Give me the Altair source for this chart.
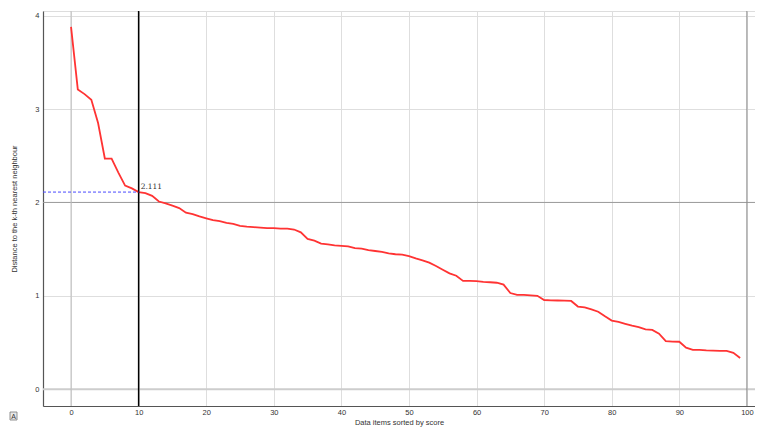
import altair as alt
import pandas as pd

# k-distance values, items sorted by score (0..99)
idx = list(range(100))
dist = [
    3.88, 3.21, 3.16, 3.10, 2.85, 2.47, 2.47, 2.32, 2.18, 2.15,
    2.111, 2.10, 2.07, 2.01, 1.99, 1.965, 1.94, 1.89, 1.875, 1.85,
    1.83, 1.81, 1.80, 1.78, 1.77, 1.75, 1.74, 1.735, 1.73, 1.725,
    1.725, 1.72, 1.72, 1.71, 1.68, 1.61, 1.59, 1.56, 1.55, 1.54,
    1.535, 1.53, 1.51, 1.505, 1.49, 1.48, 1.47, 1.455, 1.445, 1.44,
    1.425, 1.40, 1.38, 1.355, 1.32, 1.28, 1.24, 1.215, 1.16, 1.16,
    1.157, 1.15, 1.145, 1.14, 1.12, 1.03, 1.01, 1.01, 1.005, 1.00,
    0.955, 0.952, 0.95, 0.948, 0.945, 0.885, 0.875, 0.855, 0.83, 0.78,
    0.735, 0.72, 0.70, 0.68, 0.665, 0.64, 0.635, 0.595, 0.515, 0.51,
    0.508, 0.445, 0.42, 0.42, 0.415, 0.413, 0.41, 0.41, 0.39, 0.335,
]

x_ticks = [0, 10, 20, 30, 40, 50, 60, 70, 80, 90, 100]
y_ticks = [0, 1, 2, 3, 4]
threshold_x = [10]
threshold_y = [2.111]
threshold_label = ["2.111"]

x_domain = [-4.15, 101.2]
y_domain = [-0.18, 4.05]

df = pd.DataFrame({"item": idx, "dist": dist})
thr = pd.DataFrame({"tx": threshold_x, "ty": threshold_y, "label": threshold_label,
                    "x0": [x_domain[0]]})

FONT = "Liberation Sans"
PLOT_H = 395
PLOT_W = 712

xs = alt.Scale(domain=x_domain, nice=False, zero=False)
ys = alt.Scale(domain=y_domain, nice=False, zero=False)

x_axis = alt.Axis(
    values=x_ticks, format="d", title="Data items sorted by score", grid=True,
    gridColor="#dedede", gridWidth=1, tickSize=0, labelPadding=2,
    domainColor="#555555", domainWidth=1.2, labelFontSize=7.5, titleFontSize=7.5,
    labelColor="#333333", titleColor="#333333", titleFontWeight="normal",
    labelFont=FONT, titleFont=FONT, titlePadding=3,
)
y_axis = alt.Axis(
    values=y_ticks, format="d", title="Distance to the k-th nearest neighbour", grid=True,
    gridColor="#dedede", gridWidth=1, tickSize=0, labelPadding=4,
    domainColor="#555555", domainWidth=1.2, labelFontSize=7.5, titleFontSize=7.5,
    labelColor="#333333", titleColor="#333333", titleFontWeight="normal",
    labelFont=FONT, titleFont=FONT, titlePadding=16,
)

base = alt.Chart(df)

# invisible layer carrying the axes
axes = base.mark_point(opacity=0).encode(
    x=alt.X("item:Q", scale=xs, axis=x_axis),
    y=alt.Y("dist:Q", scale=ys, axis=y_axis),
)

# emphasized grid lines
hgrid = pd.DataFrame({"gy": [0, 2], "c": ["#cdcdcd", "#9a9a9a"], "w": [2, 1]})
vgrid = pd.DataFrame({"gx": [0, 100], "c": ["#bdbdbd", "#8a8a8a"], "w": [1, 1]})

hlines = alt.Chart(hgrid).mark_rule().encode(
    y=alt.Y("gy:Q", scale=ys),
    color=alt.Color("c:N", scale=None),
    strokeWidth=alt.StrokeWidth("w:Q", scale=None),
)
vlines = alt.Chart(vgrid).mark_rule().encode(
    x=alt.X("gx:Q", scale=xs),
    color=alt.Color("c:N", scale=None),
    strokeWidth=alt.StrokeWidth("w:Q", scale=None),
)

line = base.mark_line(color="#ff3333", strokeWidth=1.8).encode(
    x=alt.X("item:Q", scale=xs),
    y=alt.Y("dist:Q", scale=ys),
)

vthr = alt.Chart(thr).mark_rule(color="#000000", strokeWidth=1.5).encode(
    x=alt.X("tx:Q", scale=xs),
)
hthr = alt.Chart(thr).mark_rule(color="#4a4aff", strokeWidth=1, strokeDash=[3, 2]).encode(
    x=alt.X("x0:Q", scale=xs),
    x2=alt.X2("tx:Q"),
    y=alt.Y("ty:Q", scale=ys),
)
thr_text = alt.Chart(thr).mark_text(
    align="left", baseline="bottom", dx=2, dy=-1, fontSize=7.5,
    font="DejaVu Serif", color="#333333",
).encode(
    x=alt.X("tx:Q", scale=xs),
    y=alt.Y("ty:Q", scale=ys),
    text="label:N",
)

icon_box = alt.Chart(thr).mark_rect(fill="#e8e8e8", stroke="#777777", strokeWidth=0.8).encode(
    x=alt.value(-33), x2=alt.value(-26), y=alt.value(PLOT_H + 6), y2=alt.value(PLOT_H + 14),
)
icon_text = alt.Chart(thr).mark_text(
    text="A", fontSize=7, font=FONT, color="#333333", baseline="middle", align="center",
).encode(x=alt.value(-29.5), y=alt.value(PLOT_H + 10.5))

chart = alt.layer(
    axes, hlines, vlines, line, vthr, hthr, thr_text, icon_box, icon_text
).properties(
    width=PLOT_W, height=PLOT_H,
    autosize=alt.AutoSizeParams(type="none"),
    padding={"left": 35, "top": 3, "right": 0, "bottom": 21},
).configure_view(stroke=None).configure(background="white")

chart.save("out.html", embed_options={"renderer": "svg", "actions": False})
